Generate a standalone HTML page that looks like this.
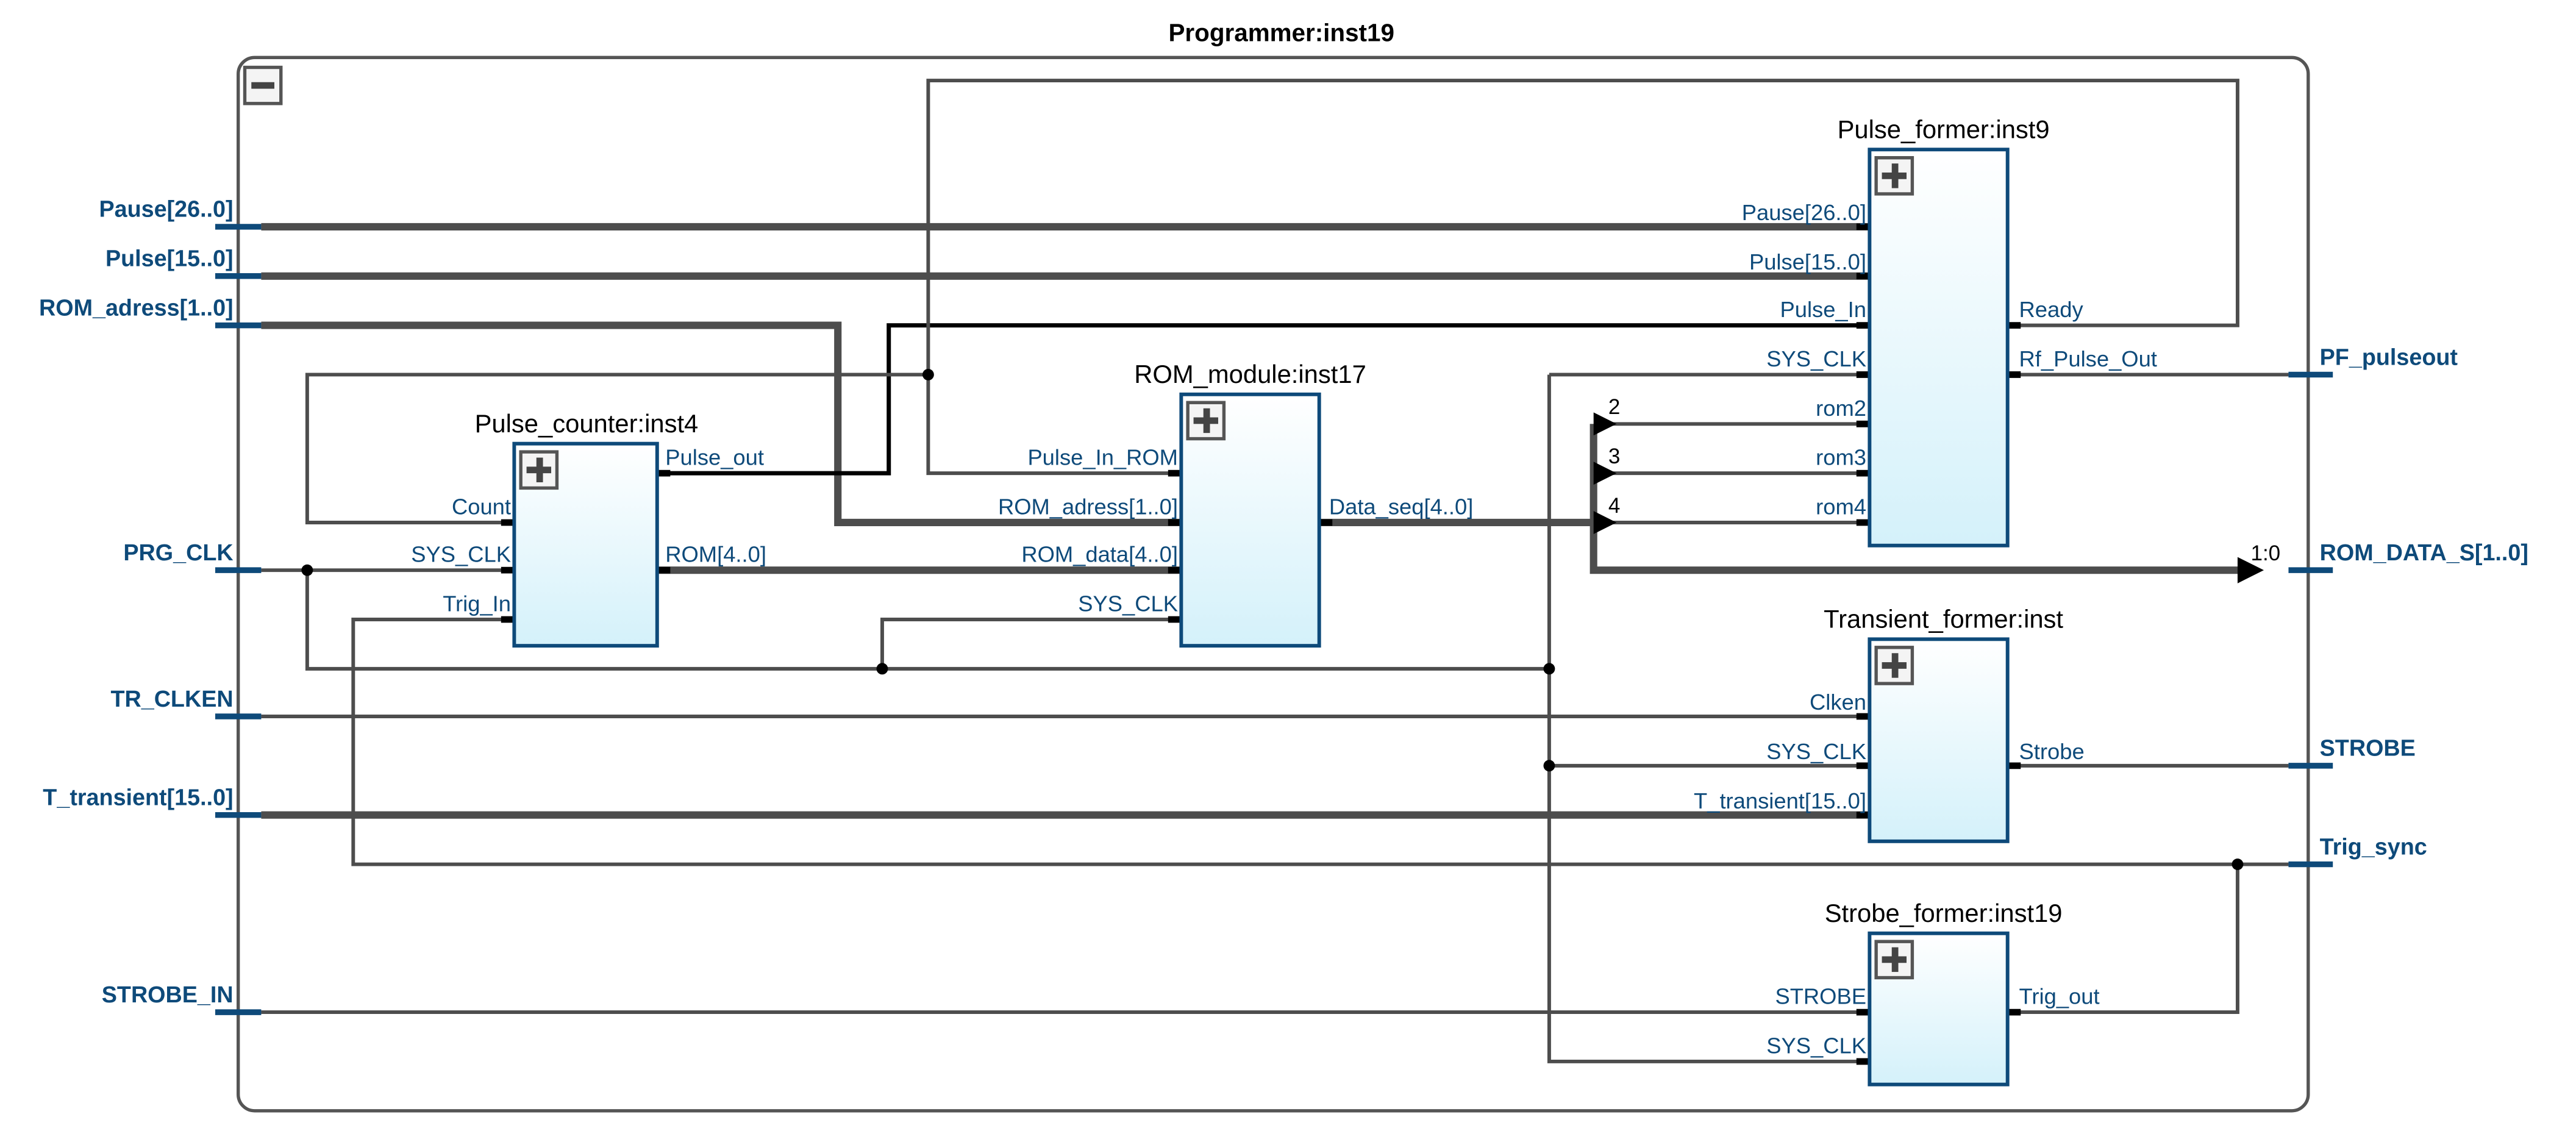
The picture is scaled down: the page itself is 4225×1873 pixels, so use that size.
<!DOCTYPE html>
<html><head><meta charset="utf-8"><style>
html,body{margin:0;padding:0;background:#fff;}
svg{display:block;}
text{font-family:"Liberation Sans",sans-serif;}
.pl{fill:#0e4a7a;font-size:13.5px;}
.t{fill:#000;font-size:15.5px;text-anchor:middle;}
.io{fill:#0e4a7a;font-size:14px;font-weight:bold;font-family:"Liberation Sans",sans-serif;}
.w{stroke:#4d4d4d;stroke-width:2.2;fill:none;}
.b{stroke:#4d4d4d;stroke-width:4.5;fill:none;}
.k{stroke:#000;stroke-width:2.6;fill:none;}
.stub{stroke:#0e4a7a;stroke-width:3.5;}
.blk{fill:url(#g);stroke:#0e4a7a;stroke-width:2.2;}
</style></head><body>
<svg width="4225" height="1873" viewBox="0 0 1568 695" preserveAspectRatio="none" xmlns="http://www.w3.org/2000/svg">
<defs><linearGradient id="g" x1="0" y1="0" x2="0" y2="1"><stop offset="0" stop-color="#ffffff"/><stop offset="1" stop-color="#d4f1fa"/></linearGradient>
<g id="plus"><rect x="0" y="0" width="22" height="22" fill="#f4f4f4" stroke="#555" stroke-width="2"/><rect x="9.5" y="3.5" width="4" height="15" fill="#444"/><rect x="3.5" y="9" width="15" height="4" fill="#444"/></g>
</defs>
<text x="780" y="25" style="font-family:'Liberation Sans',sans-serif;font-weight:bold;font-size:15px;text-anchor:middle">Programmer:inst19</text>
<rect x="145" y="35" width="1260" height="641" rx="10" fill="none" stroke="#555" stroke-width="2"/>
<rect x="149" y="41" width="22" height="22" fill="#f4f4f4" stroke="#555" stroke-width="2"/><rect x="153" y="50" width="14" height="4" fill="#444"/>

<path class="b" d="M159 138H1138M159 168H1138M159 198H510V318H719M400 347H719M803 318H970M970 258V347H1368M159 496H1138"/>
<path class="k" d="M400 288H541V198H1138"/>
<path class="w" d="M1222 198H1362V49H565V288H719M313 318H187V228H565M159 347H313M187 347V407H943M537 407V377H719M943 228H1138M943 228V646H1138M943 466H1138M980 258H1138M980 288H1138M980 318H1138M1222 228H1393M1222 466H1393M159 436H1138M313 377H215V526H1393M1222 616H1362V526M159 616H1138"/>
<g fill="#000"><circle cx="565" cy="228" r="3.5"/><circle cx="187" cy="347" r="3.5"/><circle cx="537" cy="407" r="3.5"/><circle cx="943" cy="407" r="3.5"/><circle cx="943" cy="466" r="3.5"/><circle cx="1362" cy="526" r="3.5"/>
<path d="M970 251L984 258L970 265Z"/><path d="M970 281L984 288L970 295Z"/><path d="M970 311L984 318L970 325Z"/><path d="M1362 339L1378 347L1362 355Z"/></g>
<g style="font-family:'Liberation Sans',sans-serif;font-size:13px"><text x="979" y="252">2</text><text x="979" y="282">3</text><text x="979" y="312">4</text><text x="1370" y="341">1:0</text></g>

<path stroke="#000" stroke-width="4" d="M305 318H313M305 347H313M305 377H313M400 288H408M400 347H408M711 288H719M711 318H719M711 347H719M711 377H719M803 318H811M1130 138H1138M1130 168H1138M1130 198H1138M1130 228H1138M1130 258H1138M1130 288H1138M1130 318H1138M1222 198H1230M1222 228H1230M1130 436H1138M1130 466H1138M1130 496H1138M1222 466H1230M1130 616H1138M1130 646H1138M1222 616H1230"/>

<path class="stub" d="M131 138H159M131 168H159M131 198H159M131 347H159M131 436H159M131 496H159M131 616H159M1393 228H1420M1393 347H1420M1393 466H1420M1393 526H1420"/>
<g class="io" text-anchor="end"><text x="142" y="132">Pause[26..0]</text><text x="142" y="162">Pulse[15..0]</text><text x="142" y="192">ROM_adress[1..0]</text><text x="142" y="341">PRG_CLK</text><text x="142" y="430">TR_CLKEN</text><text x="142" y="490">T_transient[15..0]</text><text x="142" y="610">STROBE_IN</text></g>
<g class="io"><text x="1412" y="222">PF_pulseout</text><text x="1412" y="341">ROM_DATA_S[1..0]</text><text x="1412" y="460">STROBE</text><text x="1412" y="520">Trig_sync</text></g>

<rect class="blk" x="313" y="270" width="87" height="123"/><use href="#plus" x="317" y="275"/>
<text class="t" x="357" y="263">Pulse_counter:inst4</text>
<rect class="blk" x="719" y="240" width="84" height="153"/><use href="#plus" x="723" y="245"/>
<text class="t" x="761" y="233">ROM_module:inst17</text>
<rect class="blk" x="1138" y="91" width="84" height="241"/><use href="#plus" x="1142" y="96"/>
<text class="t" x="1183" y="84">Pulse_former:inst9</text>
<rect class="blk" x="1138" y="389" width="84" height="123"/><use href="#plus" x="1142" y="394"/>
<text class="t" x="1183" y="382">Transient_former:inst</text>
<rect class="blk" x="1138" y="568" width="84" height="92"/><use href="#plus" x="1142" y="573"/>
<text class="t" x="1183" y="561">Strobe_former:inst19</text>

<g class="pl" text-anchor="end">
<text x="311" y="313">Count</text><text x="311" y="342">SYS_CLK</text><text x="311" y="372">Trig_In</text>
<text x="717" y="283">Pulse_In_ROM</text><text x="717" y="313">ROM_adress[1..0]</text><text x="717" y="342">ROM_data[4..0]</text><text x="717" y="372">SYS_CLK</text>
<text x="1136" y="134">Pause[26..0]</text><text x="1136" y="164">Pulse[15..0]</text><text x="1136" y="193">Pulse_In</text><text x="1136" y="223">SYS_CLK</text><text x="1136" y="253">rom2</text><text x="1136" y="283">rom3</text><text x="1136" y="313">rom4</text>
<text x="1136" y="432">Clken</text><text x="1136" y="462">SYS_CLK</text><text x="1136" y="492">T_transient[15..0]</text>
<text x="1136" y="611">STROBE</text><text x="1136" y="641">SYS_CLK</text>
</g>
<g class="pl">
<text x="405" y="283">Pulse_out</text><text x="405" y="342">ROM[4..0]</text><text x="809" y="313">Data_seq[4..0]</text>
<text x="1229" y="193">Ready</text><text x="1229" y="223">Rf_Pulse_Out</text><text x="1229" y="462">Strobe</text><text x="1229" y="611">Trig_out</text>
</g>
</svg>
</body></html>
